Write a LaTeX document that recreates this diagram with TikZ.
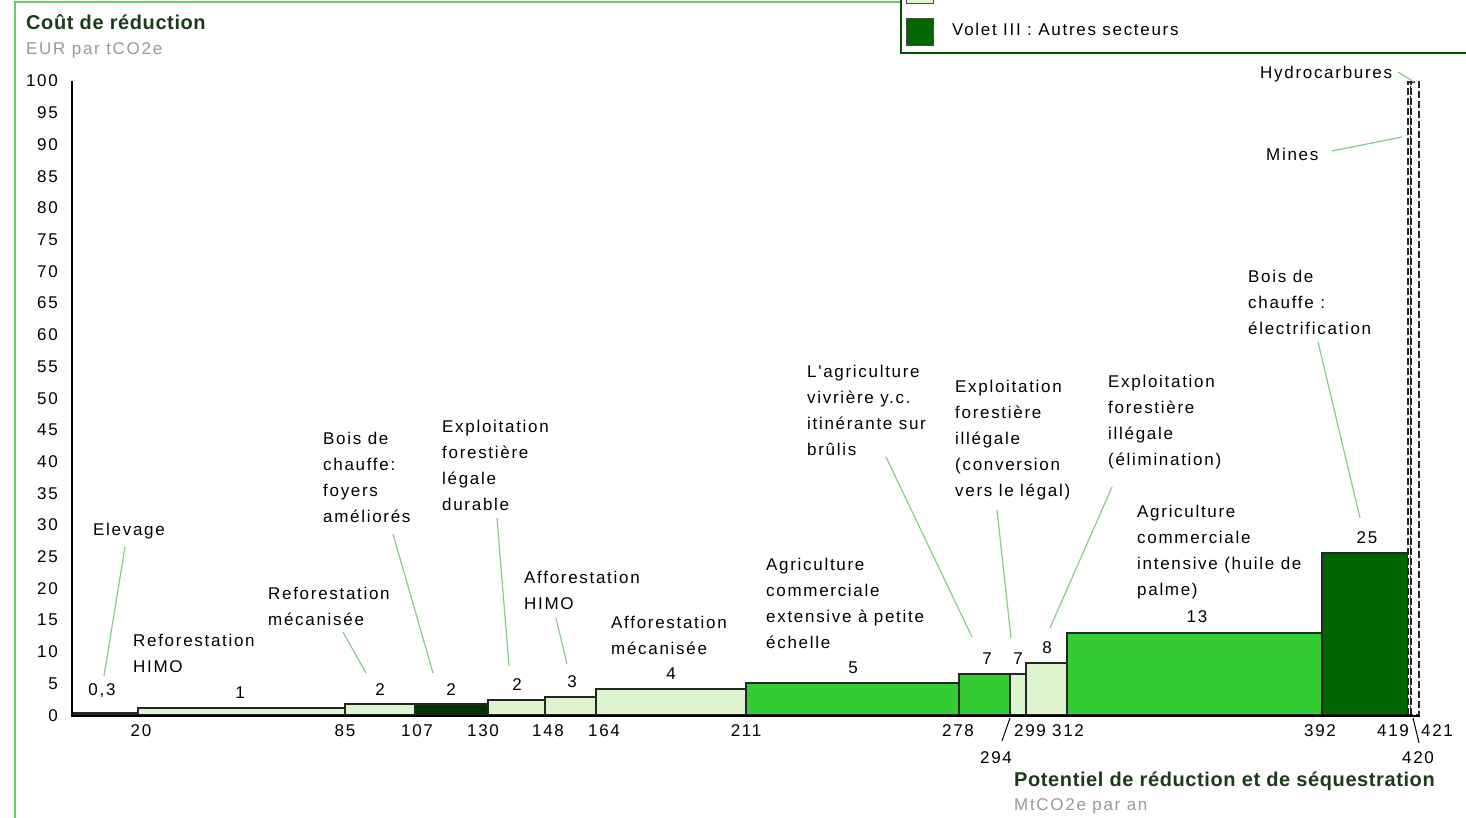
\documentclass[tikz,border=0pt]{standalone}
\usepackage{fontspec}
\setmainfont{Liberation Sans}
\newfontfamily\regf{Liberation Sans}[LetterSpace=10]
\newfontfamily\boldf{Liberation Sans}[LetterSpace=3]
\definecolor{lightg}{HTML}{DDF5CC}
\definecolor{medg}{HTML}{33CC33}
\definecolor{darkg}{HTML}{006600}
\definecolor{vdarkg}{HTML}{003300}
\definecolor{leadc}{HTML}{88CC88}
\definecolor{framec}{HTML}{66CC66}
\definecolor{titlec}{HTML}{1B3B1B}
\definecolor{subc}{HTML}{999999}
\tikzset{
  txt/.style={font=\regf\fontsize{17}{26}\selectfont, inner sep=0pt},
  num/.style={txt, anchor=base},
  lbl/.style={txt, anchor=north west, align=left},
  ttl/.style={font=\boldf\bfseries\fontsize{20}{24}\selectfont, text=titlec, inner sep=0pt, anchor=base west},
  sub/.style={txt, text=subc, anchor=base west},
  leader/.style={draw=leadc, line width=1.2pt},
  bar/.style={draw=black!85, line width=1.3pt},
  dbar/.style={draw=black!85, fill=white, line width=1.2pt, dash pattern=on 7pt off 3pt},
  axis/.style={draw=black, line width=1.5pt},
}
\begin{document}
\begin{tikzpicture}[x=1pt,y=-1pt]
\useasboundingbox (0,0) rectangle (1466,818);
\clip (0,0) rectangle (1466,818);
\fill[white] (0,0) rectangle (1466,818);
% frame
\draw[framec, line width=2pt] (15,818) -- (15,2) -- (901,2);
% legend
\fill[lightg, draw=black!70] (906,-20) rectangle (933,3);
\draw[draw=darkg!80!black, line width=1.5pt] (901,-5) -- (901,53) -- (1470,53);
\node[draw=black!70, fill=darkg, minimum width=27pt, minimum height=27pt, inner sep=0pt] (legsq) at (920,32) {};
\node[txt, anchor=base west] (legtxt) at (952,36) {Volet III : Autres secteurs};
% titles
\node[ttl] (ytitle) at (26,30) {Coût de réduction};
\node[sub] (yunit) at (26,55) {EUR par tCO2e};
\node[ttl] (xtitle) at (1014,786) {Potentiel de réduction et de séquestration};
\node[sub] (xunit) at (1014,810) {MtCO2e par an};
% y tick labels
\foreach \v in {0,5,...,100}{
  \node[txt, anchor=base east] (yt\v) at (58,{715-6.34*\v+6}) {\v};
}
% bars
\draw[bar, fill=darkg]  (74,715) rectangle (138,713);
\draw[bar, fill=lightg] (138,715) rectangle (345,708);
\draw[bar, fill=lightg] (345,715) rectangle (415,704);
\draw[bar, fill=vdarkg] (415,715) rectangle (488,704);
\draw[bar, fill=lightg] (488,715) rectangle (545,700);
\draw[bar, fill=lightg] (545,715) rectangle (596,697);
\draw[bar, fill=lightg] (596,715) rectangle (746,689);
\draw[bar, fill=medg]   (746,715) rectangle (959,683);
\draw[bar, fill=medg]   (959,715) rectangle (1010,674);
\draw[bar, fill=lightg] (1010,715) rectangle (1026,674);
\draw[bar, fill=lightg] (1026,715) rectangle (1067,663);
\draw[bar, fill=medg]   (1067,715) rectangle (1322,633);
\draw[bar, fill=darkg]  (1322,715) rectangle (1408,553);
\draw[dbar] (1408,715) rectangle (1411,82);
\draw[dbar] (1411,715) rectangle (1419,82);
% axes
\draw[axis] (72,81) -- (72,716) -- (1420,716);
% x tick labels
\node[num] (x20)  at (141,736) {20};
\node[num] (x85)  at (345,736) {85};
\node[num] (x107) at (417,736) {107};
\node[num] (x130) at (483,736) {130};
\node[num] (x148) at (548,736) {148};
\node[num] (x164) at (604,736) {164};
\node[num] (x211) at (746,736) {211};
\node[num] (x278) at (958,736) {278};
\node[num] (x299) at (1030,736) {299};
\node[num] (x312) at (1068,736) {312};
\node[num] (x392) at (1320,736) {392};
\node[num] (x419) at (1393,736) {419};
\node[num] (x421) at (1437,736) {421};
\node[num] (x294) at (996,763) {294};
\node[num] (x420) at (1418,763) {420};
\draw[black, line width=1pt] (1010,718) -- (1002,741);
\draw[black, line width=1pt] (1413,718) -- (1419,743);
% value labels
\node[num] (v1)  at (102,695) {0,3};
\node[num] (v2)  at (240,698) {1};
\node[num] (v3)  at (380,695) {2};
\node[num] (v4)  at (451,695) {2};
\node[num] (v5)  at (517,690) {2};
\node[num] (v6)  at (572,687) {3};
\node[num] (v7)  at (671,679) {4};
\node[num] (v8)  at (853,673) {5};
\node[num] (v9)  at (987,664) {7};
\node[num] (v10) at (1018,664) {7};
\node[num] (v11) at (1047,653) {8};
\node[num] (v12) at (1197,622) {13};
\node[num] (v13) at (1367,543) {25};
% category labels
\node[txt, anchor=base west] (l1) at (93,535) {Elevage};
\node[lbl] (l2) at (133,{646-18.2}) {\strut Reforestation\\HIMO};
\node[lbl] (l3) at (268,{599-18.2}) {\strut Reforestation\\mécanisée};
\node[lbl] (l4) at (323,{444-18.2}) {\strut Bois de\\chauffe:\\foyers\\améliorés};
\node[lbl] (l5) at (442,{432-18.2}) {\strut Exploitation\\forestière\\légale\\durable};
\node[lbl] (l6) at (524,{583-18.2}) {\strut Afforestation\\HIMO};
\node[lbl] (l7) at (611,{628-18.2}) {\strut Afforestation\\mécanisée};
\node[lbl] (l8) at (766,{570-18.2}) {\strut Agriculture\\commerciale\\extensive à petite\\échelle};
\node[lbl] (l9) at (807,{377-18.2}) {\strut L'agriculture\\vivrière y.c.\\itinérante sur\\brûlis};
\node[lbl] (l10) at (955,{392-18.2}) {\strut Exploitation\\forestière\\illégale\\(conversion\\vers le légal)};
\node[lbl] (l11) at (1108,{387-18.2}) {\strut Exploitation\\forestière\\illégale\\(élimination)};
\node[lbl] (l12) at (1137,{517-18.2}) {\strut Agriculture\\commerciale\\intensive (huile de\\palme)};
\node[lbl] (l13) at (1248,{282-18.2}) {\strut Bois de\\chauffe :\\électrification};
\node[txt, anchor=base west] (l14) at (1266,161) {Mines};
\node[txt, anchor=base west] (l15) at (1260,79) {Hydrocarbures};
% leaders
\draw[leader] (125,547) -- (104,676);
\draw[leader] (343,632) -- (366,673);
\draw[leader] (393,534) -- (433,673);
\draw[leader] (497,518) -- (509,666);
\draw[leader] (556,618) -- (567,664);
\draw[leader] (886,457) -- (972,637);
\draw[leader] (997,510) -- (1011,638);
\draw[leader] (1112,487) -- (1050,628);
\draw[leader] (1318,342) -- (1360,518);
\draw[leader] (1332,151) -- (1402,137);
\draw[leader] (1398,72) -- (1414,82);
\end{tikzpicture}
\end{document}
